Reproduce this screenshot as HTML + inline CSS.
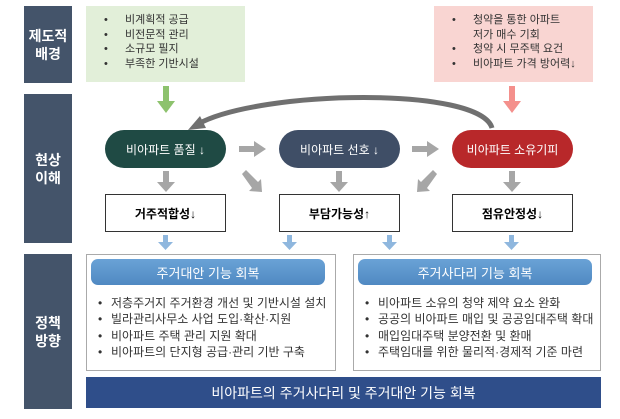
<!DOCTYPE html>
<html><head><meta charset="utf-8"><style>
body{margin:0;width:620px;height:419px;background:#fff;position:relative;overflow:hidden;font-family:"Liberation Sans","Noto Sans CJK KR",sans-serif}
.a{position:absolute;box-sizing:border-box}
.side{background:#44546a;color:#fff;font-weight:bold;font-size:14px;display:flex;align-items:center;justify-content:center;text-align:center;line-height:18px;left:24px;width:48px}
.pill{border-radius:19px;color:#fff;font-size:12px;display:flex;align-items:center;justify-content:center;top:130px;height:38px;width:121px}
.box{border:1px solid #333;background:#fff;font-weight:bold;font-size:12px;display:flex;align-items:center;justify-content:center;top:194px;height:38px;width:121px}
ul{margin:0;padding:0;list-style:none}
li{position:relative;font-size:11px;color:#333;white-space:nowrap}
li.b:before{content:"•";position:absolute}
.g li{line-height:14.5px;padding-left:39px}.g li.b:before{left:18px}
.p li{line-height:16.3px;padding-left:24px;font-size:12px}.p li.b:before{left:11px}
.hd{background:linear-gradient(#6aa2d6,#5089c2);color:#fff;border-radius:7px;font-size:13px;display:flex;align-items:center;justify-content:center;top:259px;height:26px}
</style></head><body>
<div class="a side" style="top:6px;height:77px">제도적<br>배경</div>
<div class="a side" style="top:94px;height:149px">현상<br>이해</div>
<div class="a side" style="top:254px;height:155px">정책<br>방향</div>

<div class="a g" style="left:86px;top:6px;width:159px;height:76px;background:#e2efd9;padding-top:7px"><ul>
<li class="b">비계획적 공급</li><li class="b">비전문적 관리</li><li class="b">소규모 필지</li><li class="b">부족한 기반시설</li></ul></div>
<div class="a g" style="left:434px;top:6px;width:159px;height:76px;background:#f9d5d2;padding-top:7px"><ul>
<li class="b">청약을 통한 아파트</li><li>저가 매수 기회</li><li class="b">청약 시 무주택 요건</li><li class="b">비아파트 가격 방어력↓</li></ul></div>

<svg class="a" style="left:0;top:0" width="620" height="419">
<g fill="#8dc26d"><rect x="163" y="86" width="6" height="16"/><path d="M157,101h18l-9,12z"/></g>
<g fill="#f4908c"><rect x="509" y="86" width="6" height="16"/><path d="M503,101h18l-9,12z"/></g>
<path d="M492,128 C480,86 260,90 198,124" fill="none" stroke="#707070" stroke-width="5"/>
<path d="M188,130 L200,116 L206,128z" fill="#707070"/>
<g fill="#a6a6a6">
<rect x="239" y="146" width="16" height="6"/><path d="M254,141l12,8l-12,8z"/>
<rect x="412" y="146" width="16" height="6"/><path d="M427,141l12,8l-12,8z"/>
<rect x="163" y="171" width="6" height="12"/><path d="M157,182h18l-9,10z"/>
<rect x="336" y="171" width="6" height="12"/><path d="M330,182h18l-9,10z"/>
<rect x="509" y="171" width="6" height="12"/><path d="M503,182h18l-9,10z"/>
<path d="M242,174l4,-4l12,12l3,-3l1,13l-13,-1l3,-3z"/>
<path d="M437,174l-4,-4l-12,12l-3,-3l-1,13l13,-1l-3,-3z"/>
</g>
<g fill="#8fb7de">
<rect x="163" y="235" width="5" height="8"/><path d="M158,242h15l-7.5,8z"/>
<rect x="287" y="235" width="5" height="8"/><path d="M282,242h15l-7.5,8z"/>
<rect x="387" y="235" width="5" height="8"/><path d="M382,242h15l-7.5,8z"/>
<rect x="509" y="235" width="5" height="8"/><path d="M504,242h15l-7.5,8z"/>
</g>
</svg>

<div class="a pill" style="left:105px;background:#1f4a44">비아파트 품질 ↓</div>
<div class="a pill" style="left:279px;background:#3f4e66">비아파트 선호 ↓</div>
<div class="a pill" style="left:452px;background:#b8282a">비아파트 소유기피</div>
<div class="a box" style="left:105px">거주적합성↓</div>
<div class="a box" style="left:279px">부담가능성↑</div>
<div class="a box" style="left:452px">점유안정성↓</div>

<div class="a p" style="left:86px;top:254px;width:250px;height:117px;border:1px solid #aaa;padding-top:40px"><ul>
<li class="b">저층주거지 주거환경 개선 및 기반시설 설치</li><li class="b">빌라관리사무소 사업 도입·확산·지원</li><li class="b">비아파트 주택 관리 지원 확대</li><li class="b">비아파트의 단지형 공급·관리 기반 구축</li></ul></div>
<div class="a p" style="left:353px;top:254px;width:248px;height:117px;border:1px solid #aaa;padding-top:40px"><ul>
<li class="b">비아파트 소유의 청약 제약 요소 완화</li><li class="b">공공의 비아파트 매입 및 공공임대주택 확대</li><li class="b">매입임대주택 분양전환 및 환매</li><li class="b">주택임대를 위한 물리적·경제적 기준 마련</li></ul></div>
<div class="a hd" style="left:91px;width:234px">주거대안 기능 회복</div>
<div class="a hd" style="left:358px;width:234px">주거사다리 기능 회복</div>
<div class="a" style="left:86px;top:377px;width:515px;height:31px;background:#2f4e8a;color:#fff;font-size:14px;display:flex;align-items:center;justify-content:center">비아파트의 주거사다리 및 주거대안 기능 회복</div>
</body></html>
